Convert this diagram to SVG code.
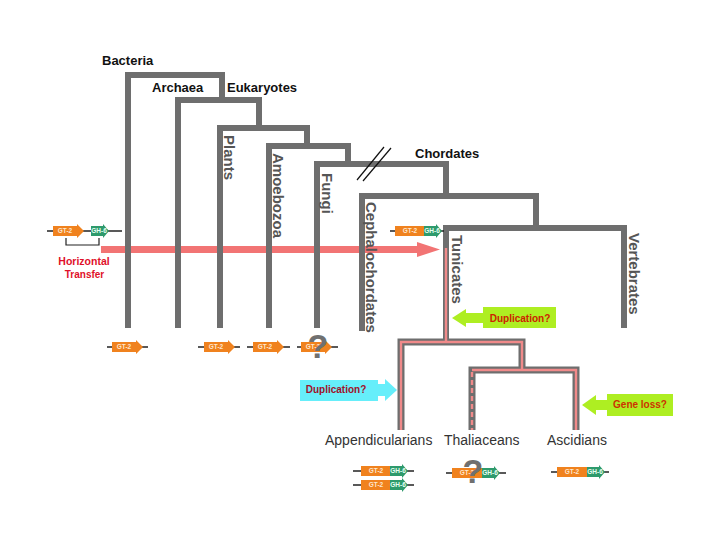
<svg xmlns="http://www.w3.org/2000/svg" width="720" height="540" viewBox="0 0 720 540">
<style>
.tree{fill:none;stroke:#6e6e6e;stroke-width:6;stroke-linecap:butt;stroke-linejoin:miter}
.ltree{fill:none;stroke:#6e6e6e;stroke-width:7;stroke-linejoin:miter}
.pink{fill:none;stroke:#f08a8a;stroke-width:2.4}
.top{font-family:"Liberation Sans",Arial,sans-serif;font-weight:bold;font-size:13px;fill:#111}
.rot{font-family:"Liberation Sans",Arial,sans-serif;font-weight:bold;font-size:15px;fill:#555}
.bot{font-family:"Liberation Sans",Arial,sans-serif;font-size:14px;fill:#333}
.call{font-family:"Liberation Sans",Arial,sans-serif;font-weight:bold;font-size:10px;text-anchor:middle}
.gl{font-family:"Liberation Sans",Arial,sans-serif;font-weight:bold;font-size:6.5px;fill:#fde6cc;text-anchor:middle}
.gl2{font-family:"Liberation Sans",Arial,sans-serif;font-weight:bold;font-size:6.5px;fill:#e6fff2;text-anchor:middle}
.dna{stroke:#222;stroke-width:1.3}
.q{font-family:"Liberation Sans",Arial,sans-serif;font-weight:bold;font-size:34px;fill:#707070;text-anchor:middle}
</style>
<defs>
<g id="gt2a"><polygon points="0,-5 24,-5 24,-7 31,0 24,7 24,5 0,5" fill="#f0821e"/><text x="12" y="2.3" class="gl">GT-2</text></g>
<g id="gt2r"><rect x="0" y="-5" width="30" height="10" fill="#f0821e"/><text x="15" y="2.3" class="gl">GT-2</text></g>
<g id="gh6"><polygon points="0,-5 12,-5 12,-7 18,0 12,7 12,5 0,5" fill="#2e9a6c"/><text x="8" y="2.3" class="gl2">GH-6</text></g>
</defs>
<rect width="720" height="540" fill="#fff"/>

<g id="hgt-arrow">
<line x1="101" y1="249.5" x2="418" y2="249.5" stroke="#f27474" stroke-width="7"/>
<polygon points="417,242 440,249.5 417,257" fill="#f27474"/>
</g>

<g id="connectors">
<path class="tree" d="M128,328 V75 H222 V100"/>
<path class="tree" d="M178,328 V100 H259 V128"/>
<path class="tree" d="M220,328 V128 H307 V146"/>
<path class="tree" d="M269,328 V146 H348 V164"/>
<path class="tree" d="M317,328 V164 H446 V196"/>
<path class="tree" d="M362,331 V196 H536 V228"/>
<path class="tree" d="M446,342 V228 H624 V328"/>
<line x1="357" y1="180" x2="384" y2="147" stroke="#111" stroke-width="1.2"/>
<line x1="363" y1="181" x2="391" y2="148" stroke="#111" stroke-width="1.2"/>
<path class="ltree" d="M401,430 V342 H522 V370"/>
<path class="ltree" d="M472,430 V370 H576 V430"/>
<line x1="446" y1="339" x2="446" y2="345" stroke="#6e6e6e" stroke-width="6"/>
<path class="pink" d="M446,248 V342"/>
<path class="pink" d="M401,430 V342 H522 V370"/>
<path class="pink" d="M472,370 H576 V430"/>
<path class="pink" d="M472,372 V430" stroke-dasharray="5,3"/>
</g>

<g id="node-bacteria"><text class="top" x="102" y="65">Bacteria</text></g>
<g id="node-archaea"><text class="top" x="152" y="92">Archaea</text></g>
<g id="node-eukaryotes"><text class="top" x="227" y="92">Eukaryotes</text></g>
<g id="node-chordates"><text class="top" x="415" y="158">Chordates</text></g>
<g id="node-plants"><text class="rot" transform="translate(224,135) rotate(90)">Plants</text></g>
<g id="node-amoebozoa"><text class="rot" transform="translate(273,153) rotate(90)">Amoebozoa</text></g>
<g id="node-fungi"><text class="rot" transform="translate(322,173) rotate(90)">Fungi</text></g>
<g id="node-cephalochordates"><text class="rot" transform="translate(366,202) rotate(90)">Cephalochordates</text></g>
<g id="node-tunicates"><text class="rot" transform="translate(452,235) rotate(90)">Tunicates</text></g>
<g id="node-vertebrates"><text class="rot" transform="translate(629,233) rotate(90)">Vertebrates</text></g>
<g id="node-appendicularians"><text class="bot" x="325" y="445">Appendicularians</text></g>
<g id="node-thaliaceans"><text class="bot" x="444" y="445">Thaliaceans</text></g>
<g id="node-ascidians"><text class="bot" x="547" y="445">Ascidians</text></g>

<g id="node-hgt-label">
<text x="84" y="265" text-anchor="middle" font-family="Liberation Sans, Arial, sans-serif" font-weight="bold" font-size="10.5" fill="#e0102a">Horizontal</text>
<text x="84.5" y="278" text-anchor="middle" font-family="Liberation Sans, Arial, sans-serif" font-weight="bold" font-size="10" fill="#e0102a">Transfer</text>
</g>

<g id="gene-bacterial">
<line class="dna" x1="47" y1="231" x2="122" y2="231"/>
<use href="#gt2a" x="53" y="231"/>
<use href="#gh6" x="91" y="231"/>
<path d="M66,238 V245 H99 V238" fill="none" stroke="#222" stroke-width="1.2"/>
</g>
<g id="gene-tunicate">
<line class="dna" x1="390" y1="231" x2="444" y2="231"/>
<use href="#gt2r" x="395" y="231"/>
<use href="#gh6" x="424" y="231"/>
</g>

<g id="genes-row">
<line class="dna" x1="107" y1="347" x2="148" y2="347"/><use href="#gt2a" x="112" y="347"/>
<line class="dna" x1="198" y1="347" x2="240" y2="347"/><use href="#gt2a" x="204" y="347"/>
<line class="dna" x1="247" y1="347" x2="290" y2="347"/><use href="#gt2a" x="253" y="347"/>
<line class="dna" x1="297" y1="347" x2="338" y2="347"/><use href="#gt2a" x="301" y="347"/>
<text class="q" x="318" y="358">?</text>
</g>

<g id="genes-bottom">
<line class="dna" x1="353" y1="471" x2="414" y2="471"/><use href="#gt2r" x="361" y="471"/><use href="#gh6" x="390" y="471"/>
<line class="dna" x1="353" y1="485" x2="414" y2="485"/><use href="#gt2r" x="361" y="485"/><use href="#gh6" x="390" y="485"/>
<line class="dna" x1="446" y1="473" x2="506" y2="473"/><use href="#gt2r" x="452" y="473"/><use href="#gh6" x="482" y="473"/>
<text class="q" x="473" y="483">?</text>
<line class="dna" x1="551" y1="472" x2="609" y2="472"/><use href="#gt2r" x="557" y="472"/><use href="#gh6" x="587" y="472"/>
</g>

<g id="callout-dup-tunicates">
<rect x="483" y="307" width="73" height="21" fill="#aeee22"/>
<rect x="464" y="313" width="20" height="10" fill="#aeee22"/>
<polygon points="466,309 452,318 466,327" fill="#aeee22"/>
<text class="call" x="520" y="322" fill="#cc2200">Duplication?</text>
</g>
<g id="callout-dup-append">
<rect x="300" y="380" width="78" height="21" fill="#66eefa"/>
<rect x="377" y="384" width="9" height="12" fill="#66eefa"/>
<polygon points="385,379 397,390 385,401" fill="#66eefa"/>
<text class="call" x="336" y="393" fill="#a0102a">Duplication?</text>
</g>
<g id="callout-geneloss">
<rect x="607" y="394" width="66" height="22" fill="#aeee22"/>
<rect x="594" y="400" width="14" height="10" fill="#aeee22"/>
<polygon points="596,395 582,405 596,415" fill="#aeee22"/>
<text class="call" x="640" y="408" fill="#cc3300">Gene loss?</text>
</g>
</svg>
